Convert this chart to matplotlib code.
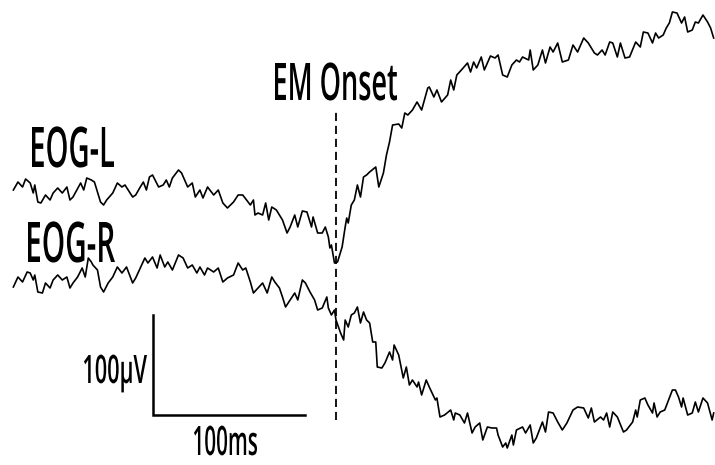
import matplotlib
matplotlib.use('Agg')
import matplotlib.pyplot as plt
from matplotlib.font_manager import FontProperties
from matplotlib.patheffects import AbstractPathEffect
from matplotlib.textpath import TextPath
from matplotlib.transforms import Affine2D, IdentityTransform

# EOG-L trace, time (ms from movement onset) and amplitude (uV)
L_T = [-211, -208, -205, -203, -200, -198, -197, -195, -193, -190, -187, -185, -182, -179, -176,
       -174, -172, -167, -165, -163, -160, -158, -154, -152, -150, -146, -143, -140, -138, -133,
       -131, -128, -126, -124, -122, -120, -116, -113, -111, -109, -107, -103, -101, -97, -94,
       -92, -89, -87, -84, -80, -77, -74, -71, -67, -64, -61, -56, -54, -53, -51,
       -48, -46, -44, -42, -39, -35, -32, -30, -27, -25, -22, -19, -16, -15, -12,
       -9, -7, -5, -4, -3, -1, 1, 4, 6, 7, 8, 10, 12, 14, 16,
       18, 20, 22, 26, 27, 28, 31, 33, 35, 37, 41, 43, 45, 47, 50,
       53, 56, 60, 61, 64, 66, 69, 73, 75, 77, 79, 82, 86, 88, 90,
       92, 95, 97, 101, 104, 106, 109, 112, 115, 118, 120, 122, 126, 127, 129,
       132, 135, 137, 140, 142, 145, 148, 152, 155, 158, 162, 165, 167, 169, 171,
       174, 176, 179, 181, 184, 186, 189, 192, 196, 199, 201, 204, 207, 209, 211,
       214, 216, 218, 220, 223, 226, 228, 230, 233, 235, 237, 240, 243, 245, 247]
L_V = [-5, 3, -2, 6, 2, -8, 0, -17, -18, -10, -15, -8, -3, -8, -2,
       -15, -12, 2, -5, 7, 5, 3, -17, -20, -15, -8, 2, -2, 0, -12,
       -10, -2, 3, -5, 8, 10, -2, 0, 5, -2, 7, 15, 12, -2, 2,
       -12, -5, -13, -2, -10, -5, -18, -23, -17, -10, -10, -20, -15, -30, -28,
       -30, -18, -35, -22, -25, -35, -48, -42, -30, -42, -26, -27, -42, -32, -48,
       -48, -42, -52, -63, -60, -78, -77, -62, -42, -33, -38, -20, -15, 0, -12,
       8, 10, 13, 18, 8, -2, 12, 30, 43, 60, 61, 57, 72, 70, 75,
       83, 75, 97, 98, 88, 95, 83, 90, 105, 95, 110, 115, 122, 113, 123,
       117, 128, 115, 129, 127, 130, 110, 108, 120, 125, 123, 128, 125, 135, 115,
       120, 135, 122, 138, 133, 142, 123, 125, 140, 133, 147, 142, 137, 132, 130,
       135, 130, 143, 142, 128, 142, 127, 128, 143, 138, 153, 152, 142, 152, 147,
       150, 157, 162, 173, 172, 162, 168, 153, 155, 163, 162, 170, 163, 157, 147]

# EOG-R trace
R_T = [-211, -208, -205, -202, -200, -198, -197, -195, -192, -190, -187, -185, -182, -179, -176,
       -174, -172, -169, -166, -164, -162, -160, -159, -156, -154, -152, -149, -146, -143, -140,
       -137, -133, -131, -128, -125, -123, -120, -117, -115, -112, -110, -107, -103, -100, -97,
       -94, -91, -89, -86, -84, -80, -77, -74, -71, -67, -64, -61, -59, -56, -54,
       -51, -48, -45, -42, -40, -37, -35, -33, -30, -27, -25, -22, -20, -17, -14,
       -12, -9, -6, -5, -3, -1, 0, 3, 5, 6, 8, 10, 12, 14, 16,
       18, 20, 22, 24, 26, 27, 30, 32, 35, 37, 38, 41, 44, 46, 48,
       50, 53, 54, 56, 59, 61, 65, 66, 68, 71, 75, 77, 78, 81, 84,
       86, 89, 91, 94, 96, 99, 102, 105, 106, 109, 111, 112, 115, 116, 118,
       122, 124, 127, 129, 131, 135, 137, 139, 142, 145, 148, 151, 155, 158, 162,
       165, 167, 169, 173, 175, 177, 179, 181, 184, 188, 190, 194, 196, 197, 199,
       202, 204, 207, 208, 210, 212, 215, 217, 220, 222, 224, 226, 227, 230, 233,
       235, 237, 240, 243, 246, 247]
R_V = [-2, 8, 3, 13, 12, 5, 10, -7, -8, 2, -3, 5, 10, 5, 8,
       -3, 2, 8, 17, 8, 27, 23, 20, 15, -2, -7, 2, 8, 18, 12,
       18, 2, 7, 17, 27, 22, 28, 17, 30, 18, 23, 15, 30, 27, 17,
       20, 12, 18, 10, 17, 13, 17, 3, 7, 10, 22, 15, 17, 3, -8,
       -3, 2, -8, 8, 3, -3, -12, -22, -15, -8, -15, 5, 2, -7, -15,
       -25, -23, -12, -23, -30, -25, -35, -48, -55, -35, -42, -30, -28, -22, -38,
       -27, -35, -38, -57, -57, -82, -83, -78, -67, -75, -60, -70, -93, -82, -100,
       -95, -102, -97, -110, -95, -102, -115, -113, -132, -130, -125, -135, -128, -130, -138,
       -128, -148, -142, -138, -155, -142, -143, -143, -150, -162, -158, -163, -150, -160, -145,
       -142, -148, -140, -158, -153, -137, -147, -127, -128, -137, -145, -138, -125, -122, -123,
       -133, -123, -137, -132, -135, -128, -142, -127, -132, -147, -145, -137, -125, -132, -115,
       -113, -120, -128, -118, -132, -127, -125, -117, -105, -105, -112, -122, -113, -130, -128,
       -117, -127, -113, -118, -135, -128]

L_OFFSET = 100       # uV between the two traces
SCALE_MS = 100
SCALE_UV = 100

W, H, DPI = 715, 465, 100
MS_PER_PX = 0.654
ONSET_PX = 336


class Squeeze(AbstractPathEffect):
    """Draw text narrower than the font, like the condensed labels of the figure."""
    def __init__(self, sx):
        super().__init__()
        self.sx = sx

    def draw_path(self, renderer, gc, tpath, affine, rgbFace=None):
        renderer.draw_path(gc, tpath, Affine2D().scale(self.sx, 1.0) + affine, rgbFace)


def label(fig, s, left, base, cap, width):
    em = cap / 0.714
    fp = FontProperties(family='Open Sans', weight='semibold')
    ext = TextPath((0, 0), s, size=em, prop=fp).get_extents()
    sx = width / ext.width
    fp.set_size(em * 72 / DPI)
    fig.text(left - ext.x0 * sx, H - base, s, transform=IdentityTransform(),
             fontproperties=fp, ha='left', va='baseline', color='black',
             path_effects=[Squeeze(sx)])


fig = plt.figure(figsize=(W / DPI, H / DPI), dpi=DPI)
ax = fig.add_axes([0, 0, 1, 1])
ax.set_xlim(-ONSET_PX * MS_PER_PX, (W - ONSET_PX) * MS_PER_PX)
ax.set_ylim(-180, 285)
ax.axis('off')

ax.plot(L_T, [v + L_OFFSET for v in L_V], color='black', lw=1.2)
ax.plot(R_T, R_V, color='black', lw=1.2)

# movement onset marker
ax.plot([0, 0], [-135, 177], color='black', lw=1.3, linestyle=(0, (4.5, 2.7)))

# scale bars
x0, y0 = -120, -130
ax.plot([x0, x0, x0 + SCALE_MS], [y0 + SCALE_UV, y0, y0], color='black', lw=1.8,
        solid_joinstyle='miter')

label(fig, 'EM Onset', 275, 100, 37, 122)
label(fig, 'EOG-L', 32, 167, 40, 82)
label(fig, 'EOG-R', 28, 262, 40, 87)
label(fig, '100\u00b5V', 84, 383, 28, 63)
label(fig, '100ms', 194, 455, 29, 63)

fig.savefig('out.png', dpi=DPI, facecolor='white')
